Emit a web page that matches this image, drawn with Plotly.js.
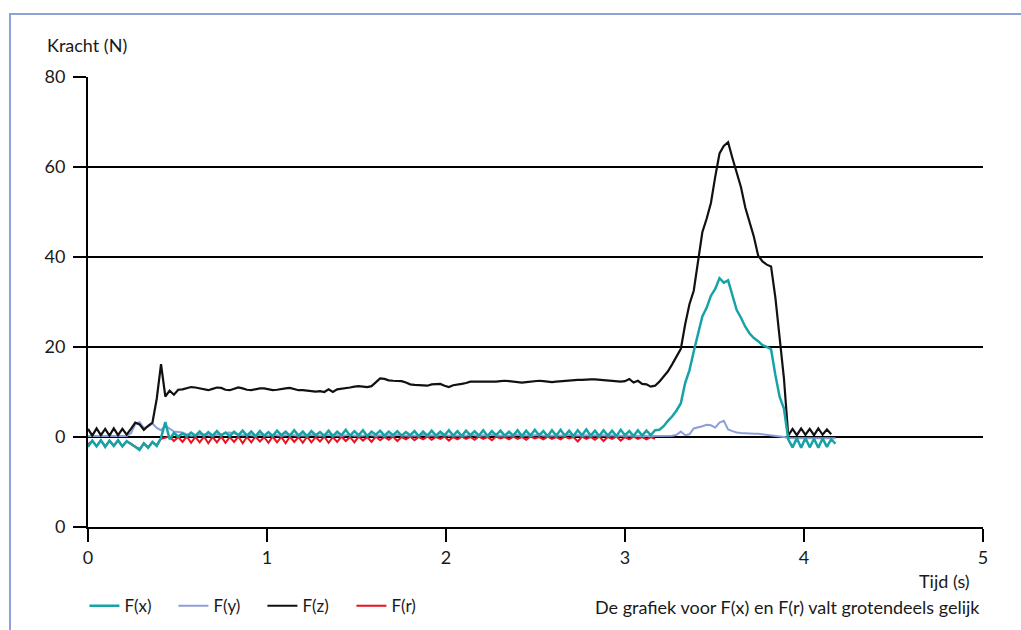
<!DOCTYPE html>
<html>
<head>
<meta charset="utf-8">
<script src="https://cdn.plot.ly/plotly-3.0.1.min.js"></script>
<style>
  html, body { margin: 0; padding: 0; background: #ffffff; }
  #frame { position: absolute; left: 9px; top: 13px; width: 1012px; height: 617px;
           border-top: 2.5px solid #8fa2d8; border-left: 2.5px solid #8fa2d8; box-sizing: border-box; }
  #chart { position: absolute; left: 0; top: 0; width: 1021px; height: 630px; }
</style>
</head>
<body>
<div id="frame"></div>
<div id="chart"></div>
<script>
// Sampling step of the measurement (s)
const sampleStep = 0.024;

// F(x) in N
const forceX = [
  -2.2,-0.8,-2.1,-0.7,-2.2,-0.8,-2.0,-0.7,-2.1,-0.9,
  -1.5,-2.2,-2.9,-1.4,-2.4,-1.1,-2.0,-0.2,3.3,-0.5,
  0.9,0.1,0.8,0.2,1.0,0.3,1.2,0.2,1.1,0.3,
  1.3,0.3,1.0,0.2,1.2,0.4,1.4,0.3,1.2,0.2,
  1.3,0.3,1.1,0.2,1.4,0.4,1.2,0.3,1.5,0.3,
  1.2,0.2,1.3,0.4,1.1,0.3,1.4,0.2,1.2,0.4,
  1.6,0.3,1.3,0.4,1.5,0.2,1.2,0.5,1.4,0.3,
  1.2,0.4,1.3,0.3,1.1,0.4,1.3,0.2,1.2,0.3,
  1.4,0.3,1.2,0.4,1.5,0.3,1.3,0.2,1.4,0.4,
  1.3,0.3,1.5,0.2,1.3,0.4,1.4,0.3,1.2,0.3,
  1.5,0.2,1.4,0.3,1.6,0.4,1.3,0.2,1.5,0.3,
  1.6,0.3,1.4,0.2,1.5,0.4,1.7,0.3,1.4,0.2,
  1.5,0.3,1.4,0.2,1.6,0.4,1.3,0.2,1.5,0.3,
  1.4,0.4,1.5,1.6,2.4,3.6,4.6,5.9,7.5,12.0,
  14.8,19.0,22.8,26.8,28.7,31.4,32.9,35.3,34.3,34.8,
  31.5,28.2,26.5,24.5,23.0,22.0,21.3,20.4,20.0,19.5,
  13.8,8.9,6.3,-0.5,-2.3,-0.3,-2.4,-0.2,-2.3,-0.4,
  -2.4,-0.3,-2.2,-0.5,-1.5
];

// F(y) in N
const forceY = [
  0.2,0.2,0.2,0.2,0.2,0.2,0.2,0.2,0.2,0.2,
  0.8,2.8,3.3,2.0,2.3,3.0,2.0,1.5,2.5,1.8,
  1.2,1.1,1.0,0.6,0.3,0.4,0.5,0.6,0.4,0.3,
  0.5,0.6,0.9,1.0,0.8,0.5,0.4,0.5,0.4,0.3,
  0.5,0.4,0.3,0.5,0.4,0.3,0.4,0.5,0.4,0.3,
  0.4,0.3,0.5,0.4,0.3,0.4,0.5,0.3,0.4,0.3,
  0.4,0.5,0.3,0.4,0.3,0.5,0.4,0.3,0.4,0.3,
  0.4,0.3,0.5,0.4,0.3,0.4,0.3,0.4,0.5,0.3,
  0.4,0.3,0.4,0.5,0.3,0.4,0.3,0.4,0.3,0.5,
  0.4,0.3,0.4,0.3,0.5,0.4,0.3,0.4,0.3,0.4,
  0.5,0.3,0.4,0.3,0.4,0.5,0.3,0.4,0.3,0.4,
  0.3,0.4,0.5,0.3,0.4,0.3,0.4,0.3,0.4,0.3,
  0.4,0.3,0.4,0.3,0.3,0.4,0.3,0.3,0.2,0.3,
  0.2,0.2,0.2,0.2,0.2,0.2,0.3,0.5,1.2,0.4,
  0.6,1.9,2.1,2.4,2.7,2.6,2.1,3.2,3.6,1.7,
  1.3,1.0,0.9,0.8,0.8,0.7,0.7,0.6,0.5,0.4,
  0.3,0.1,0.0,-0.2,-0.3,-0.3,-0.3,-0.3,-0.3,-0.3,
  -0.3,-0.3,-0.3,-0.3,-0.3
];

// F(z) in N
const forceZ = [
  1.8,0.3,1.9,0.4,1.8,0.3,1.9,0.4,1.8,0.5,
  1.8,3.2,2.8,1.6,2.5,3.2,8.5,16.2,9.0,10.3,
  9.4,10.5,10.6,10.9,11.1,11.0,10.8,10.5,10.4,10.7,
  11.0,10.9,10.5,10.4,10.7,11.0,10.8,10.5,10.4,10.6,
  10.8,10.8,10.6,10.4,10.5,10.7,10.8,10.9,10.7,10.4,
  10.4,10.3,10.2,10.1,10.2,10.0,10.6,10.0,10.6,10.7,
  10.9,11.0,11.2,11.3,11.2,11.1,11.3,12.2,13.0,12.9,
  12.6,12.5,12.5,12.4,12.1,11.7,11.6,11.5,11.4,11.4,
  11.7,11.8,11.8,11.4,11.1,11.5,11.6,11.8,12.0,12.3,
  12.3,12.3,12.3,12.2,12.2,12.3,12.4,12.5,12.4,12.3,
  12.2,12.1,12.2,12.3,12.4,12.5,12.4,12.3,12.2,12.3,
  12.4,12.5,12.6,12.7,12.7,12.7,12.8,12.8,12.8,12.7,
  12.6,12.5,12.5,12.4,12.3,12.4,12.9,12.1,12.5,11.8,
  11.7,11.2,11.4,12.3,13.5,14.6,16.2,17.8,19.6,25.0,
  29.5,32.5,39.5,45.5,48.5,52.0,57.8,63.0,64.7,65.5,
  62.0,58.5,55.5,51.0,47.5,44.5,40.3,39.0,38.3,37.9,
  31.0,22.5,13.0,0.3,1.8,0.4,1.9,0.5,1.8,0.4,
  1.9,0.5,1.7,0.6,null
];

// F(r) in N
const forceR = [
  -1.6,-0.9,-2.0,-0.8,-2.1,-0.9,-1.9,-0.8,-2.0,-1.0,
  -1.6,-2.1,-2.7,-1.5,-2.3,-1.2,-1.8,-0.4,-0.2,0.1,
  -0.9,0.0,-1.1,0.1,-1.3,0.0,-1.2,0.1,-1.4,0.0,
  -1.2,0.1,-1.3,0.0,-1.1,0.1,-1.4,0.0,-1.2,0.1,
  -1.0,0.0,-1.3,0.1,-1.2,0.0,-1.4,0.1,-1.1,0.0,
  -1.3,0.1,-1.2,0.0,-1.0,0.1,-1.3,0.0,-1.1,0.1,
  -0.9,0.0,-1.2,0.1,-0.8,0.0,-1.1,0.1,-0.7,0.0,
  -0.6,0.1,-0.9,0.0,-0.5,0.1,-0.7,0.0,-0.5,0.1,
  -0.6,0.0,-0.4,0.1,-0.8,0.0,-0.5,0.1,-0.4,0.0,
  -0.6,0.1,-0.4,0.0,-0.7,0.1,-0.3,0.0,-0.5,0.1,
  -0.4,0.0,-0.6,0.1,-0.3,0.0,-0.5,0.1,-0.4,0.0,
  -0.5,0.1,-0.3,0.0,-1.0,0.1,-0.4,0.0,-0.6,0.1,
  -0.9,0.0,-0.4,0.1,-0.8,0.0,-0.5,0.1,-0.4,0.0,
  -0.5,0.0,-0.4
];

const seriesNames = ["F(x)", "F(y)", "F(z)", "F(r)"];
const seriesColors = ["#16a3a6", "#8c9fd9", "#111111", "#e8131f"];

const xTickVals = [0, 1, 2, 3, 4, 5];
const yTickVals = [-20, 0, 20, 40, 60, 80];
const yTickText = ["0", "0", "20", "40", "60", "80"];

function timesFor(arr) { return arr.map((_, i) => +(i * sampleStep).toFixed(4)); }

const FONT = "Lato, 'Open Sans', sans-serif";
const FS = 18;

const mk = (vals, idx, width, rank) => ({
  type: "scatter", mode: "lines",
  x: timesFor(vals), y: vals,
  name: seriesNames[idx],
  line: { color: seriesColors[idx], width: width },
  legendrank: rank,
  connectgaps: false,
  hoverinfo: "skip"
});

const data = [
  mk(forceR, 3, 2.0, 4),
  mk(forceY, 1, 2.0, 2),
  mk(forceZ, 2, 2.2, 3),
  mk(forceX, 0, 2.5, 1)
];

const layout = {
  width: 1021, height: 630,
  margin: { l: 88, r: 38, t: 77, b: 103, pad: 0, autoexpand: false },
  paper_bgcolor: "rgba(0,0,0,0)",
  plot_bgcolor: "rgba(0,0,0,0)",
  font: { family: FONT, size: FS, color: "#1a1a1a" },
  showlegend: true,
  legend: {
    orientation: "h", x: -0.004, xanchor: "left", y: -0.176, yanchor: "middle",
    font: { family: FONT, size: 17, color: "#1a1a1a" },
    entrywidth: 44, entrywidthmode: "pixels",
    traceorder: "normal", bgcolor: "rgba(0,0,0,0)"
  },
  xaxis: {
    range: [0, 5], tickvals: xTickVals, ticktext: xTickVals.map(String),
    ticks: "outside", ticklen: 13, tickwidth: 2, tickcolor: "#000",
    showline: true, linecolor: "#000", linewidth: 2,
    showgrid: false, zeroline: false, fixedrange: true,
    tickfont: { family: FONT, size: FS, color: "#1a1a1a" },
    ticklabelstandoff: 0
  },
  yaxis: {
    range: [-20, 80], tickvals: yTickVals, ticktext: yTickText,
    ticks: "outside", ticklen: 13, tickwidth: 2, tickcolor: "#000",
    showline: true, linecolor: "#000", linewidth: 2,
    showgrid: true, gridcolor: "#000", gridwidth: 2,
    zeroline: false, fixedrange: true,
    tickfont: { family: FONT, size: FS, color: "#1a1a1a" },
    ticklabelstandoff: 4
  },
  annotations: [
    { text: "Kracht (N)", xref: "paper", yref: "paper", x: -0.048, y: 1.071,
      xanchor: "left", yanchor: "middle", showarrow: false,
      font: { family: FONT, size: FS, color: "#1a1a1a" } },
    { text: "Tijd (s)", xref: "paper", yref: "paper", x: 0.9877, y: -0.12,
      xanchor: "right", yanchor: "middle", showarrow: false,
      font: { family: FONT, size: FS, color: "#1a1a1a" } },
    { text: "De grafiek voor F(x) en F(r) valt grotendeels gelijk", xref: "paper", yref: "paper",
      x: 0.9989, y: -0.178, xanchor: "right", yanchor: "middle", showarrow: false,
      font: { family: FONT, size: FS, color: "#1a1a1a" } }
  ]
};

Plotly.newPlot("chart", data, layout, { staticPlot: true, displayModeBar: false });
</script>
</body>
</html>
